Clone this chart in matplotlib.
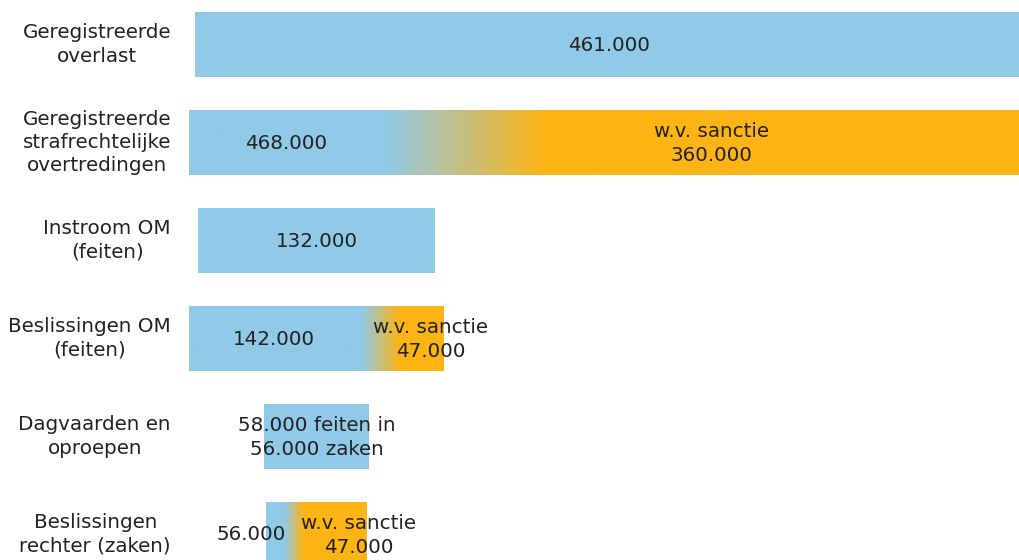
import numpy as np
import matplotlib
matplotlib.use("Agg")
import matplotlib.pyplot as plt
from matplotlib.patches import Rectangle

# ---- data ----
categories = [
    "Geregistreerde\noverlast",
    "Geregistreerde\nstrafrechtelijke\novertredingen",
    "Instroom OM\n(feiten)",
    "Beslissingen OM\n(feiten)",
    "Dagvaarden en\noproepen",
    "Beslissingen\nrechter (zaken)",
]
totals = [461000, 468000, 132000, 142000, 58000, 56000]
sanctie = [None, 360000, None, 47000, None, 47000]
dagvaarden_zaken = 56000

# ---- layout / style ----
centers = [234000, 234000, 71000, 71000, 71000, 71000]
grad_start_shift = [0, 0.002, 0, 0.009, 0, 0.028]
grad_frac = [0, 0.19, 0, 0.15, 0, 0.18]
sanctie_label_shift = [0, 3000, 0, 16000, 0, 19000]
BLUE = np.array([144, 202, 232]) / 255
ORANGE = np.array([253, 180, 20]) / 255
TXT = "#222222"
FS = 14.3
LS = 1.28
UNIT_PER_PX = 557.0


def fmt(v):
    return f"{v:,}".replace(",", ".")


fig = plt.figure(figsize=(10.19, 5.6), dpi=100)
ax = fig.add_axes([0, 0, 1, 1])
ax.set_xlim(-189 * UNIT_PER_PX, (1019 - 189) * UNIT_PER_PX)
ax.set_ylim(5.26, -0.454)
ax.axis("off")

H = 0.663
for i, (cat, tot) in enumerate(zip(categories, totals)):
    left = centers[i] - tot / 2
    right = left + tot
    if sanctie[i] is None:
        ax.add_patch(Rectangle((left, i - H / 2), tot, H, facecolor=BLUE,
                               edgecolor="none"))
    else:
        a = 1 - sanctie[i] / tot + grad_start_shift[i]
        b = a + grad_frac[i]
        f = np.linspace(0, 1, 1000)
        t = np.clip((f - a) / (b - a), 0, 1)[:, None]
        row = BLUE[None, :] * (1 - t) + ORANGE[None, :] * t
        img = np.repeat(row[None, :, :], 2, axis=0)
        ax.imshow(img, extent=(left, right, i + H / 2, i - H / 2),
                  aspect="auto", interpolation="bilinear", zorder=1)
    # category label
    ax.text(171 * UNIT_PER_PX - 189 * UNIT_PER_PX, i, cat, ha="right",
            va="center", multialignment="center", fontsize=FS, color=TXT,
            linespacing=LS)

    # value labels
    if i == 4:
        ax.text(centers[i], i + 0.01, f"{fmt(tot)} feiten in\n{fmt(dagvaarden_zaken)} zaken",
                ha="center", va="center", multialignment="center",
                fontsize=FS, color=TXT, linespacing=LS, zorder=3)
    elif sanctie[i] is None:
        ax.text(centers[i], i + 0.01, fmt(tot), ha="center", va="center",
                fontsize=FS, color=TXT, zorder=3)
    else:
        blue_part = tot - sanctie[i]
        if i == 5:
            ax.text(left + blue_part + 4 * UNIT_PER_PX, i, fmt(tot), ha="right",
                    va="center", fontsize=FS, color=TXT, zorder=3)
        else:
            ax.text(left + blue_part / 2, i + 0.01, fmt(tot), ha="center",
                    va="center", fontsize=FS, color=TXT, zorder=3)
        sx = left + blue_part + sanctie[i] / 2 + sanctie_label_shift[i]
        ax.text(sx, i + 0.01, f"w.v. sanctie\n{fmt(sanctie[i])}", ha="center",
                va="center", multialignment="center", fontsize=FS, color=TXT,
                linespacing=LS, zorder=3)

fig.savefig("out.png", dpi=100)
